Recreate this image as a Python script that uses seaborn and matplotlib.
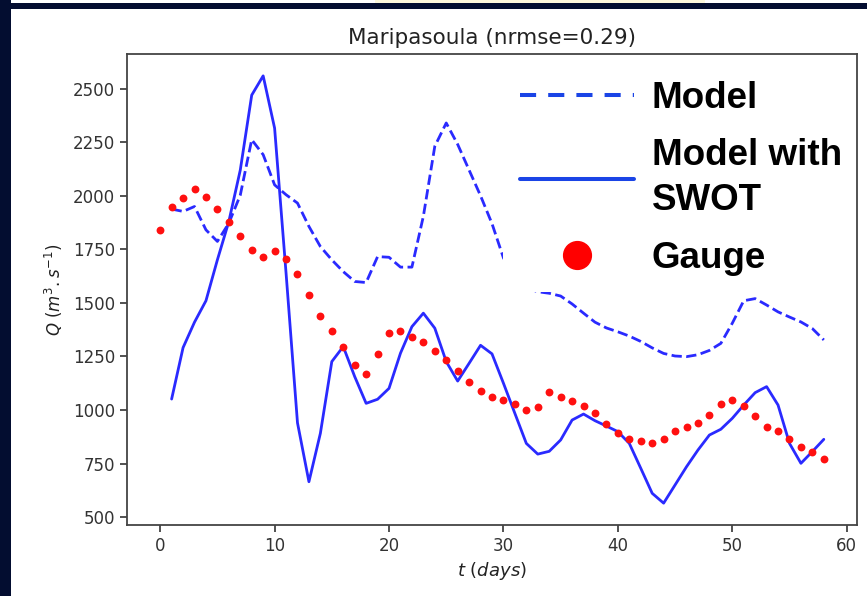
import numpy as np
import pandas as pd
import matplotlib
matplotlib.use("Agg")
import matplotlib.pyplot as plt
from matplotlib.lines import Line2D
from matplotlib.patches import Rectangle
import seaborn as sns

# ---- data ----
gauge_days = list(range(0, 59))
gauge_q = [1838, 1950, 1989, 2031, 1995, 1938, 1877, 1810, 1746, 1716,
           1740, 1706, 1637, 1537, 1440, 1371, 1292, 1210, 1168, 1262,
           1360, 1371, 1343, 1318, 1277, 1232, 1180, 1129, 1090, 1059,
           1047, 1030, 1002, 1014, 1083, 1061, 1043, 1019, 984, 933,
           894, 864, 856, 844, 864, 902, 920, 938, 977, 1030,
           1047, 1019, 972, 920, 903, 864, 827, 804, 770]

model_days = list(range(1, 59))
model_q = [1938, 1927, 1950, 1841, 1787, 1872, 2003, 2262, 2192,
           2051, 2005, 1966, 1857, 1763, 1701, 1646, 1600, 1595, 1716,
           1713, 1667, 1667, 1904, 2231, 2340, 2240, 2120, 2000, 1870,
           1710, 1620, 1570, 1552, 1545, 1532, 1495, 1452, 1410, 1383,
           1365, 1345, 1320, 1290, 1264, 1252, 1249, 1258, 1278, 1311,
           1405, 1510, 1520, 1490, 1458, 1434, 1411, 1380, 1327]

swot_days = list(range(1, 59))
swot_q = [1051, 1291, 1410, 1510, 1701, 1880, 2120, 2470, 2560,
          2316, 1640, 940, 665, 891, 1226, 1296, 1156, 1031, 1050,
          1101, 1265, 1389, 1452, 1382, 1226, 1135, 1218, 1302, 1262,
          1125, 984, 844, 794, 807, 860, 953, 981, 950, 925,
          899, 844, 728, 611, 565, 650, 735, 813, 883, 910,
          961, 1023, 1081, 1109, 1023, 844, 751, 806, 863]

title = "Maripasoula (nrmse=0.29)"
legend_labels = ["Model", "Model with\nSWOT", "Gauge"]
xticks = [0, 10, 20, 30, 40, 50, 60]
yticks = [500, 750, 1000, 1250, 1500, 1750, 2000, 2250, 2500]

sns.set_style("ticks")
plt.rcParams["font.family"] = ["DejaVu Sans"]
plt.rcParams["mathtext.fontset"] = "dejavusans"

W, H = 867, 596
fig = plt.figure(figsize=(W / 100, H / 100), dpi=100, facecolor="white")

# slide decoration (dark navy frame of the screenshot)
navy = "#030d30"
fig.patches.append(Rectangle((0, 0), 11 / W, 1, transform=fig.transFigure,
                             facecolor=navy, edgecolor="none", zorder=0))
fig.patches.append(Rectangle((0, 1 - 9 / H), 1, 6 / H, transform=fig.transFigure,
                             facecolor=navy, edgecolor="none", zorder=0))
fig.patches.append(Rectangle((375 / W, 1 - 3 / H), 330 / W, 3 / H, transform=fig.transFigure,
                             facecolor="#fdf8dc", edgecolor="none", zorder=0))

ax = fig.add_axes([127 / W, 1 - 525 / H, (857 - 127) / W, (525 - 54) / H])
ax.set_facecolor("white")

blue = "#2a2aff"
sns.lineplot(x=model_days, y=model_q, ax=ax, color=blue, linewidth=2.0,
             linestyle="--", zorder=3)
sns.lineplot(x=swot_days, y=swot_q, ax=ax, color=blue, linewidth=2.0, zorder=3)
sns.scatterplot(x=gauge_days, y=gauge_q, ax=ax, color="#ff1010", s=32,
                linewidth=0, zorder=4)

ax.set_xticks(xticks)
ax.set_yticks(yticks)
ax.set_xlim(-2.9, 60.9)
ax.set_ylim(463, 2662)
ax.tick_params(axis="both", labelsize=12, length=5, width=1.2,
               color="#333333", labelcolor="#333333")
for sp in ax.spines.values():
    sp.set_visible(True)
    sp.set_color("#444444")
    sp.set_linewidth(1.3)
    sp.set_zorder(8)

ax.set_title(title, fontsize=15.5, color="#222222", pad=7)
ax.set_xlabel(r"$t\ (days)$", fontsize=13, color="#222222", labelpad=4)
ax.set_ylabel(r"$Q\ (m^3.s^{-1})$", fontsize=12, color="#222222", labelpad=6)

leg_blue = "#1a44e6"
handles = [
    Line2D([], [], color=leg_blue, lw=2.9, linestyle=(0, (4, 3))),
    Line2D([], [], color=leg_blue, lw=2.9),
    Line2D([], [], color="#ff0000", marker="o", markersize=20, linestyle="none"),
]
leg = ax.legend(handles, legend_labels, loc="upper left",
                bbox_to_anchor=(503 / W, 1 - 64 / H), bbox_transform=fig.transFigure,
                borderaxespad=0, frameon=True, fancybox=False, framealpha=1,
                facecolor="white", edgecolor="none", labelcolor="black",
                prop=dict(family="Liberation Sans", weight="bold", size=26.5),
                handlelength=3.1, handletextpad=0.49, borderpad=0.45,
                labelspacing=0.6)
for t in leg.get_texts():
    t.set_linespacing(1.4)
leg.set_zorder(6)

fig.savefig("out.png", dpi=100, facecolor="white")
